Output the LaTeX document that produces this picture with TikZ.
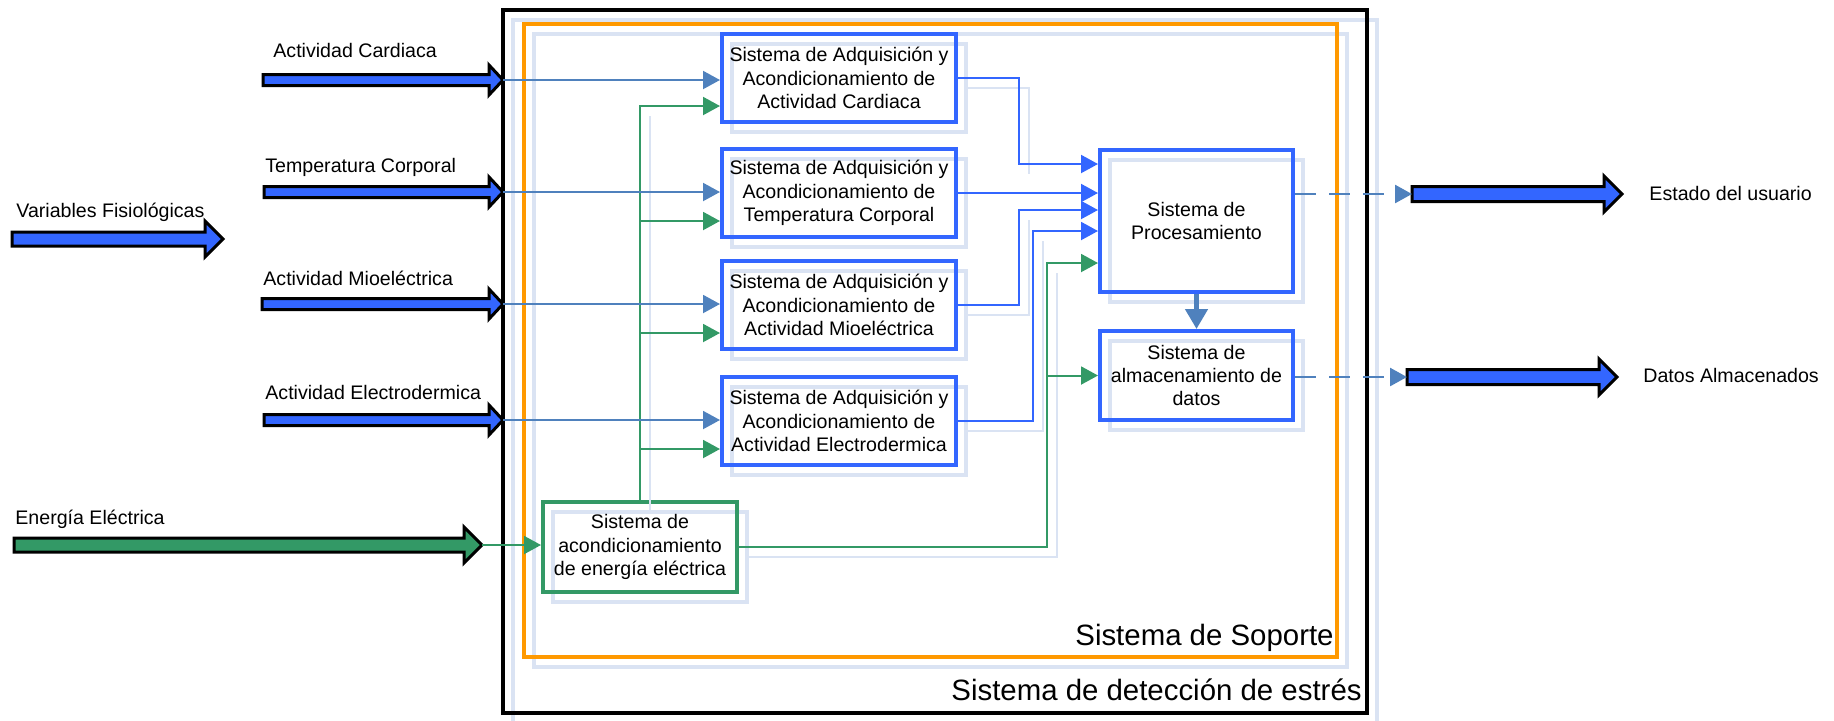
\documentclass[tikz,border=0pt]{standalone}
\usepackage{fontspec}
\setmainfont{Liberation Sans}
\usetikzlibrary{arrows.meta,calc}
\definecolor{sysblue}{HTML}{3366FF}
\definecolor{linkblue}{HTML}{4F81BD}
\definecolor{powergreen}{HTML}{339966}
\definecolor{supporange}{HTML}{FF9900}
\definecolor{shade}{HTML}{DAE3F3}
\begin{document}
\begin{tikzpicture}[x=0.5pt,y=-0.5pt,inner sep=0pt,
font=\fontsize{9.8pt}{11.7pt}\selectfont,
ghost/.style={preaction={draw=shade,line width=2pt,transform canvas={shift={(5pt,-5pt)}}}},
linkshadow/.style={draw=shade,line width=1pt,transform canvas={shift={(5pt,-5pt)}}},
acqblock/.style={draw=sysblue,line width=2pt,ghost,minimum width=117pt,minimum height=44pt,align=center},
powerblock/.style={draw=powergreen,line width=2pt,ghost,minimum width=97pt,minimum height=45pt,align=center},
fatarrow/.style={draw=black,line width=1.5pt,line join=miter},
inlink/.style={draw=linkblue,line width=1pt,-{Triangle[length=8.5pt,width=9pt]}},
datalink/.style={draw=sysblue,line width=1pt,-{Triangle[length=8.5pt,width=9pt]}},
powerlink/.style={draw=powergreen,line width=1pt,-{Triangle[length=8.5pt,width=9pt]}},
outlink/.style={draw=linkblue,line width=1.3pt,dash pattern=on 10.5pt off 6.5pt,-{Triangle[length=8.5pt,width=9pt]}},
bigtext/.style={font=\fontsize{14.7pt}{17pt}\selectfont}]
\useasboundingbox (0,0) rectangle (1834,720);
\node[draw=black,line width=2pt,ghost,minimum width=432pt,minimum height=351.5pt] (sde) at (935,361.5) {};
\node[draw=supporange,line width=2pt,ghost,minimum width=406.5pt,minimum height=316.5pt] (sop) at (930.5,340.5) {};
\node[bigtext,anchor=base east] (sopLbl) at ([shift={(-5,-14)}]sop.south east) {Sistema de Soporte};
\node[bigtext,anchor=base east] (sdeLbl) at ([shift={(-7,-15)}]sde.south east) {Sistema de detección de estrés};
\node[acqblock] (card) at (839,78) {Sistema de Adquisición y\\Acondicionamiento de\\Actividad Cardiaca};
\node[acqblock] (temp) at (839,193) {Sistema de Adquisición y\\Acondicionamiento de\\Temperatura Corporal};
\node[acqblock] (mio) at (839,305) {Sistema de Adquisición y\\Acondicionamiento de\\Actividad Mioeléctrica};
\node[acqblock] (elec) at (839,421) {Sistema de Adquisición y\\Acondicionamiento de\\Actividad Electrodermica};
\node[powerblock] (ener) at (640,547) {Sistema de\\acondicionamiento\\de energía eléctrica};
\node[acqblock,minimum width=96.5pt,minimum height=71pt] (proc) at (1196.5,221) {Sistema de\\Procesamiento};
\node[acqblock,minimum width=96.5pt,minimum height=44.5pt] (alma) at (1196.5,375.5) {Sistema de\\almacenamiento de\\datos};
\foreach \nm/\xa/\xb/\yy/\s/\h/\l/\fc in {inVar/12/223/239/7/18/18/sysblue,
  inCard/263/503/80/5.5/15/14/sysblue, inTemp/264/503/192/5.5/15/14/sysblue,
  inMio/262/503/304/5.5/15/14/sysblue, inElec/264/503/420/5.5/15/14/sysblue,
  inEner/14/482/545/7/18/18/powergreen, outEst/1412/1622/194/7.5/18/18/sysblue,
  outDat/1407/1617/377/7.5/18/18/sysblue}
{
\coordinate (\nm-t) at (\xa,\yy);
\draw[fatarrow,fill=\fc] (\xa,\yy-\s) -- (\xb-\l,\yy-\s) -- (\xb-\l,\yy-\h) -- (\xb,\yy) coordinate (\nm)
  -- (\xb-\l,\yy+\h) -- (\xb-\l,\yy+\s) -- (\xa,\yy+\s) -- cycle;
}
\node[anchor=base west] (lblVar) at (16,217) {Variables Fisiológicas};
\node[anchor=base west] (lblCard) at (273,57) {Actividad Cardiaca};
\node[anchor=base west] (lblTemp) at (265,172) {Temperatura Corporal};
\node[anchor=base west] (lblMio) at (263,285) {Actividad Mioeléctrica};
\node[anchor=base west] (lblElec) at (265,399) {Actividad Electrodermica};
\node[anchor=base west] (lblEner) at (15,524) {Energía Eléctrica};
\node[anchor=base west] (lblEst) at (1649,200) {Estado del usuario};
\node[anchor=base west] (lblDat) at (1643,382) {Datos Almacenados};
\coordinate (pinCard) at ([yshift=28.5pt]proc.west);
\coordinate (pinMio) at ([yshift=5.5pt]proc.west);
\coordinate (pinElec) at ([yshift=-5pt]proc.west);
\coordinate (pinEner) at ([yshift=-21pt]proc.west);
\coordinate (kCard) at ([xshift=30.5pt]card.east);
\coordinate (kMio) at ([xshift=30.5pt]mio.east);
\coordinate (kElec) at ([xshift=37.5pt]elec.east);
\coordinate (eJ) at ([xshift=154pt]ener.east);
\coordinate (gTop) at ([yshift=-14pt]card.west);
\draw[linkshadow] (ener.north) -- (ener.north |- gTop);
\draw[linkshadow] (card.east) -- (kCard) -- (kCard |- pinCard);
\draw[linkshadow] (mio.east) -- (kMio) -- (kMio |- pinMio);
\draw[linkshadow] (elec.east) -- (kElec) -- (kElec |- pinElec);
\draw[linkshadow] (ener.east) -- (eJ) -- (eJ |- pinEner);
\foreach \b in {card,temp,mio,elec}
\draw[powerlink] (ener.north) |- ([yshift=-14pt]\b.west);
\draw[datalink] (card.east) -- (kCard) |- (pinCard);
\draw[datalink] (temp.east) -- (temp.east -| proc.west);
\draw[datalink] (mio.east) -- (kMio) |- (pinMio);
\draw[datalink] (elec.east) -- (kElec) |- (pinElec);
\draw[powerlink] (ener.east) -- (eJ) |- (pinEner);
\draw[powerlink] (eJ |- alma.west) -- (alma.west);
\draw[powerlink] (inEner) -- (inEner -| ener.west);
\foreach \a/\b in {Card/card,Temp/temp,Mio/mio,Elec/elec}
\draw[inlink] (in\a) -- (in\a -| \b.west);
\draw[draw=linkblue,line width=2.3pt,-{Triangle[length=10pt,width=11pt]}] (proc.south) -- (alma.north);
\draw[outlink] (proc.east |- outEst-t) -- (outEst-t);
\draw[outlink] (alma.east |- outDat-t) -- (outDat-t);
\end{tikzpicture}
\end{document}
